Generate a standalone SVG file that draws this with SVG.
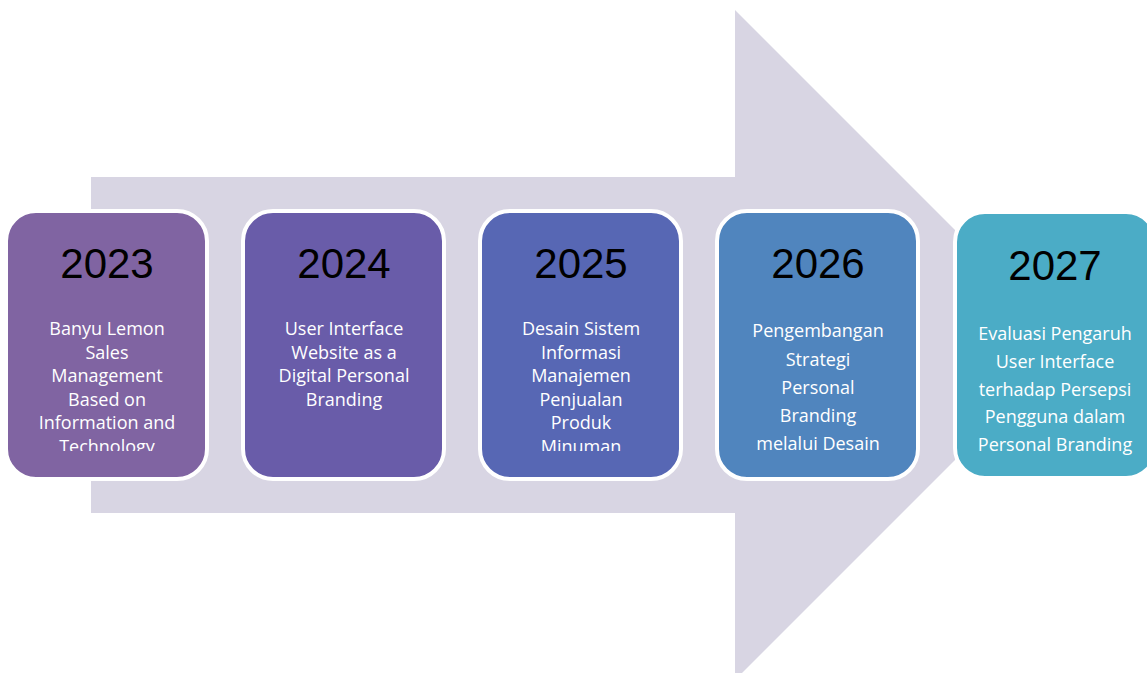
<svg xmlns="http://www.w3.org/2000/svg" width="1147" height="673" viewBox="0 0 1147 673">
<style>
.box{stroke:#FFFFFF;stroke-width:4}
.year{font-family:"Liberation Sans",Arial,sans-serif;font-size:42px;fill:#000000;text-anchor:middle}
.body{font-family:"Open Sans","Liberation Sans",sans-serif;font-size:18px;fill:#FFFFFF;text-anchor:middle}
</style>
<defs>
<clipPath id="clipText"><rect x="0" y="0" width="1147" height="451"/></clipPath>
</defs>
<rect width="1147" height="673" fill="#FFFFFF"/>
<g id="arrow">
<polygon points="91,177 735,177 735,10 1070,345 735,680 735,513 91,513" fill="#D8D5E3"/>
</g>
<g id="connectors"></g>
<g id="node2023">
<rect class="box" x="6" y="211" width="201" height="268" rx="30" fill="#8064A2"/>
<text class="year" x="107" y="278">2023</text>
<g clip-path="url(#clipText)">
<text class="body" x="107" y="335">Banyu Lemon</text>
<text class="body" x="107" y="358.5">Sales</text>
<text class="body" x="107" y="382">Management</text>
<text class="body" x="107" y="405.5">Based on</text>
<text class="body" x="107" y="429">Information and</text>
<text class="body" x="107" y="452.5">Technology</text>
</g>
</g>
<g id="node2024">
<rect class="box" x="243" y="211" width="201" height="268" rx="30" fill="#695CA9"/>
<text class="year" x="344" y="278">2024</text>
<text class="body" x="344" y="335">User Interface</text>
<text class="body" x="344" y="358.5">Website as a</text>
<text class="body" x="344" y="382">Digital Personal</text>
<text class="body" x="344" y="405.5">Branding</text>
</g>
<g id="node2025">
<rect class="box" x="480" y="211" width="201" height="268" rx="30" fill="#5767B4"/>
<text class="year" x="581" y="278">2025</text>
<g clip-path="url(#clipText)">
<text class="body" x="581" y="335">Desain Sistem</text>
<text class="body" x="581" y="358.5">Informasi</text>
<text class="body" x="581" y="382">Manajemen</text>
<text class="body" x="581" y="405.5">Penjualan</text>
<text class="body" x="581" y="429">Produk</text>
<text class="body" x="581" y="452.5">Minuman</text>
</g>
</g>
<g id="node2026">
<rect class="box" x="717" y="211" width="201" height="268" rx="30" fill="#5085BE"/>
<text class="year" x="818" y="278">2026</text>
<text class="body" x="818" y="337">Pengembangan</text>
<text class="body" x="818" y="366">Strategi</text>
<text class="body" x="818" y="394">Personal</text>
<text class="body" x="818" y="422">Branding</text>
<text class="body" x="818" y="450">melalui Desain</text>
</g>
<g id="node2027">
<rect class="box" x="955" y="212" width="201" height="266" rx="30" fill="#4BACC6"/>
<text class="year" x="1055" y="280">2027</text>
<text class="body" x="1055" y="340">Evaluasi Pengaruh</text>
<text class="body" x="1055" y="368">User Interface</text>
<text class="body" x="1055" y="396">terhadap Persepsi</text>
<text class="body" x="1055" y="423">Pengguna dalam</text>
<text class="body" x="1055" y="451">Personal Branding</text>
</g>
</svg>
